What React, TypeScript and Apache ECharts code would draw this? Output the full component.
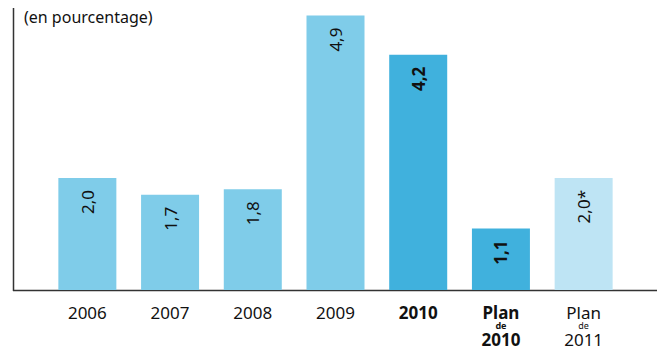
import React, { useEffect, useRef } from "react";
import * as echarts from "echarts";

const categories = ["2006", "2007", "2008", "2009", "2010", "Plan de 2010", "Plan de 2011"];
const values = [2.0, 1.7, 1.8, 4.9, 4.2, 1.1, 2.0];
const valueLabels = ["2,0", "1,7", "1,8", "4,9", "4,2", "1,1", "2,0*"];
const barColors = ["#7FCCE9", "#7FCCE9", "#7FCCE9", "#7FCCE9", "#40B1DD", "#40B1DD", "#BEE4F4"];
const boldFlags = [false, false, false, false, true, true, false];
const title = "(en pourcentage)";

const FONT = "'Noto Sans', 'Open Sans', sans-serif";

export default function App() {
  const ref = useRef<HTMLDivElement>(null);
  useEffect(() => {
    if (!ref.current) return;
    const chart = echarts.init(ref.current, null, { renderer: "svg" });
    chart.setOption({
      animation: false,
      grid: { left: 46, right: 32, top: 10, bottom: 66 },
      xAxis: {
        type: "category",
        data: categories,
        axisLine: { show: false },
        axisTick: { show: false },
        axisLabel: {
          interval: 0,
          margin: 13,
          color: "#111",
          fontFamily: FONT,
          fontSize: 16,
          formatter: (v: string) => {
            if (v === "Plan de 2010") return "{pb|Plan}\n{db|de}\n{pb|2010}";
            if (v === "Plan de 2011") return "{p|Plan}\n{d|de}\n{p|2011}";
            if (v === "2010") return "{pb|2010}";
            return "{p|" + v + "}";
          },
          rich: {
            p: { fontSize: 17, fontFamily: FONT, color: "#111", lineHeight: 18 },
            pb: { fontSize: 17, fontFamily: FONT, color: "#111", fontWeight: "bold", lineHeight: 18 },
            d: { fontSize: 9, fontFamily: FONT, color: "#111", lineHeight: 9 },
            db: { fontSize: 9, fontFamily: FONT, color: "#111", fontWeight: "bold", lineHeight: 9 },
          },
        },
      },
      yAxis: {
        type: "value",
        min: 0,
        max: 5,
        show: false,
        splitLine: { show: false },
      },
      series: [
        {
          type: "bar",
          barWidth: 58,
          data: values.map((v, i) => ({
            value: v,
            itemStyle: { color: barColors[i] },
            label: {
              show: true,
              position: "insideTop",
              rotate: 90,
              align: "right",
              verticalAlign: "middle",
              distance: 12,
              formatter: valueLabels[i],
              color: "#111",
              fontFamily: FONT,
              fontSize: 17,
              fontWeight: boldFlags[i] ? "bold" : "normal",
            },
          })),
        },
      ],
      graphic: [
        {
          type: "line",
          shape: { x1: 13.5, y1: 8, x2: 13.5, y2: 291 },
          style: { stroke: "#333", lineWidth: 1.5 },
        },
        {
          type: "line",
          shape: { x1: 13, y1: 290.5, x2: 657, y2: 290.5 },
          style: { stroke: "#333", lineWidth: 1.5 },
        },
        {
          type: "text",
          x: 24,
          y: 17,
          style: {
            text: title,
            fontFamily: FONT,
            fontSize: 16,
            fill: "#111",
            verticalAlign: "middle",
          },
        },
      ],
    });
    return () => chart.dispose();
  }, []);
  return <div ref={ref} style={{ width: 657, height: 356, position: "absolute", left: 0, top: 0 }} />;
}
